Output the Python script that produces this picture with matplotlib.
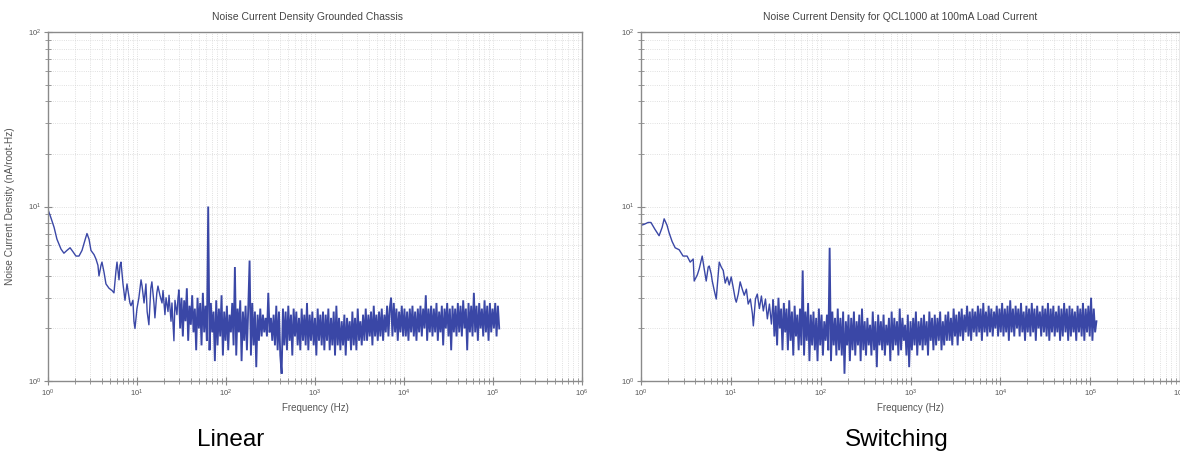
import numpy as np
import matplotlib
matplotlib.use("Agg")
import matplotlib.pyplot as plt
from matplotlib.ticker import LogLocator

# ---------------- data ----------------
TITLE_LEFT = "Noise Current Density Grounded Chassis"
TITLE_RIGHT = "Noise Current Density for QCL1000 at 100mA Load Current"
YLABEL = "Noise Current Density (nA/root-Hz)"
XLABEL = "Frequency (Hz)"
CAPTIONS = ["Linear", "Switching"]

# low-frequency part, left (Linear) panel: frequency (Hz), noise (nA/rtHz)
LIN_LF_FREQ = [1.00, 1.08, 1.17, 1.26, 1.40, 1.51, 1.63, 1.77, 1.91, 2.06,
               2.23, 2.41, 2.60, 2.74, 2.89, 3.04, 3.29, 3.46, 3.64, 3.74,
               3.94, 4.04, 4.26, 4.48, 4.85, 5.24, 5.51, 5.81, 5.96, 6.28,
               6.44, 6.61, 6.96, 7.33, 7.72, 7.92, 8.33, 8.56, 9.00, 9.24,
               9.49, 9.99, 10.5, 11.1, 11.4, 12.0, 12.6, 13.0, 13.6, 14.3,
               14.7, 15.5, 15.9, 16.7, 17.2, 18.1, 19.1, 19.6, 20.6, 21.2,
               22.3, 22.9, 24.1, 24.7, 26.0, 26.7, 28.1, 28.9]
LIN_LF_VAL = [9.6, 8.6, 7.6, 6.5, 5.7, 5.4, 5.6, 5.8, 5.5, 5.2,
              5.2, 5.6, 6.4, 7.0, 6.5, 5.6, 5.3, 5.0, 4.6, 4.0,
              4.6, 4.8, 4.2, 3.6, 3.4, 3.3, 3.2, 4.3, 4.8, 3.8,
              4.6, 4.8, 3.6, 2.9, 3.6, 3.3, 2.8, 2.7, 2.9, 2.2,
              2.0, 2.6, 3.0, 3.8, 3.5, 2.8, 3.6, 2.5, 2.1, 3.4,
              3.7, 2.8, 2.3, 3.2, 3.5, 3.1, 2.8, 3.3, 2.4, 3.0,
              2.5, 3.1, 2.2, 2.8, 1.7, 2.9, 2.4, 3.0]

# low-frequency part, right (Switching) panel
SW_LF_FREQ = [1.00, 1.08, 1.20, 1.29, 1.43, 1.59, 1.72, 1.81, 1.95, 2.05,
              2.22, 2.40, 2.66, 2.94, 3.26, 3.53, 3.81, 3.91, 4.23, 4.45,
              4.80, 5.05, 5.32, 5.60, 5.75, 6.05, 6.21, 6.54, 6.88, 7.24,
              7.43, 7.82, 8.23, 8.66, 9.12, 9.60, 10.1, 10.6, 11.2, 11.5,
              12.1, 12.7, 13.4, 14.1, 14.9, 15.6, 16.5, 17.4, 17.8, 18.8,
              19.7, 20.8, 21.9, 23.0, 24.3, 25.5, 26.9, 28.3]
SW_LF_VAL = [7.8, 7.9, 8.1, 8.1, 7.4, 6.8, 7.6, 8.5, 7.8, 7.1,
             6.3, 5.8, 5.65, 5.2, 5.2, 4.8, 5.0, 3.74, 4.05, 4.4,
             5.2, 4.4, 3.74, 4.5, 4.56, 4.1, 3.74, 3.3, 2.95, 4.1,
             4.8, 4.5, 4.3, 3.64, 3.95, 3.55, 3.95, 3.46, 2.95, 2.83,
             3.15, 3.7, 3.36, 3.1, 3.36, 2.76, 2.95, 2.42, 2.07, 2.95,
             3.15, 2.6, 3.07, 2.52, 2.95, 2.27, 2.76, 2.12]

# broadband part: log10 of frequency (Hz), shared by both panels
BAND_EXP = [
    1.470, 1.485, 1.500, 1.515, 1.530, 1.545, 1.560, 1.575, 1.590, 1.605,
    1.620, 1.635, 1.650, 1.665, 1.680, 1.695, 1.710, 1.725, 1.740, 1.755,
    1.770, 1.785, 1.800, 1.815, 1.830, 1.845, 1.860, 1.875, 1.890, 1.905,
    1.920, 1.935, 1.950, 1.965, 1.980, 1.995, 2.010, 2.025, 2.040, 2.055,
    2.070, 2.085, 2.100, 2.115, 2.130, 2.145, 2.160, 2.175, 2.190, 2.205,
    2.220, 2.235, 2.250, 2.265, 2.280, 2.295, 2.310, 2.325, 2.340, 2.355,
    2.370, 2.385, 2.400, 2.415, 2.430, 2.445, 2.460, 2.475, 2.490, 2.505,
    2.520, 2.535, 2.550, 2.565, 2.580, 2.595, 2.610, 2.625, 2.640, 2.655,
    2.670, 2.685, 2.700, 2.715, 2.730, 2.745, 2.760, 2.775, 2.790, 2.805,
    2.820, 2.835, 2.850, 2.865, 2.880, 2.895, 2.910, 2.925, 2.940, 2.955,
    2.970, 2.985, 3.000, 3.015, 3.030, 3.045, 3.060, 3.075, 3.090, 3.105,
    3.120, 3.135, 3.150, 3.165, 3.180, 3.195, 3.210, 3.225, 3.240, 3.255,
    3.270, 3.285, 3.300, 3.315, 3.330, 3.345, 3.360, 3.375, 3.390, 3.405,
    3.420, 3.435, 3.450, 3.465, 3.480, 3.495, 3.510, 3.525, 3.540, 3.555,
    3.570, 3.585, 3.600, 3.615, 3.630, 3.645, 3.660, 3.675, 3.690, 3.705,
    3.720, 3.735, 3.750, 3.765, 3.780, 3.795, 3.810, 3.825, 3.840, 3.855,
    3.870, 3.885, 3.900, 3.915, 3.930, 3.945, 3.960, 3.975, 3.990, 4.005,
    4.020, 4.035, 4.050, 4.065, 4.080, 4.095, 4.110, 4.125, 4.140, 4.155,
    4.170, 4.185, 4.200, 4.215, 4.230, 4.245, 4.260, 4.275, 4.290, 4.305,
    4.320, 4.335, 4.350, 4.365, 4.380, 4.395, 4.410, 4.425, 4.440, 4.455,
    4.470, 4.485, 4.500, 4.515, 4.530, 4.545, 4.560, 4.575, 4.590, 4.605,
    4.620, 4.635, 4.650, 4.665, 4.680, 4.695, 4.710, 4.725, 4.740, 4.755,
    4.770, 4.785, 4.800, 4.815, 4.830, 4.845, 4.860, 4.875, 4.890, 4.905,
    4.920, 4.935, 4.950, 4.965, 4.980, 4.995, 5.010, 5.025, 5.040, 5.055,
    5.070]

LIN_BAND_VAL = [
    3.3, 2.0, 3.0, 1.8, 2.9, 2.2, 3.4, 1.7, 2.7, 2.1,
    3.1, 1.9, 2.6, 1.5, 3.0, 2.0, 2.8, 1.6, 3.2, 1.9,
    2.7, 1.7, 10.0, 1.5, 2.8, 1.9, 2.5, 1.3, 2.9, 1.6,
    2.6, 1.8, 3.1, 1.4, 2.5, 1.7, 2.7, 1.5, 2.4, 1.9,
    2.8, 1.6, 4.5, 1.4, 2.6, 1.9, 2.9, 1.3, 2.5, 1.7,
    2.7, 1.5, 2.6, 4.9, 1.4, 2.8, 1.6, 2.5, 1.2, 2.4,
    1.7, 2.6, 1.8, 2.4, 1.9, 2.3, 1.8, 3.2, 1.9, 2.3,
    1.7, 2.4, 1.6, 2.7, 1.5, 2.5, 1.4, 1.1, 2.6, 1.6,
    2.5, 1.5, 2.7, 1.7, 2.4, 1.4, 2.6, 1.8, 2.5, 1.6,
    2.3, 1.5, 2.6, 1.7, 2.4, 1.6, 2.8, 1.5, 2.4, 1.7,
    2.5, 1.6, 2.3, 1.4, 2.6, 1.7, 2.4, 1.6, 2.5, 1.5,
    2.4, 1.7, 2.6, 1.5, 2.3, 1.6, 2.5, 1.4, 2.7, 1.6,
    2.3, 1.5, 2.2, 1.6, 2.4, 1.4, 2.3, 1.7, 2.2, 1.5,
    2.5, 1.6, 2.3, 1.5, 2.6, 1.7, 2.2, 1.6, 2.4, 1.7,
    2.6, 1.7, 2.4, 1.8, 2.5, 1.6, 2.7, 1.8, 2.4, 1.7,
    2.5, 1.8, 2.6, 1.7, 2.4, 1.9, 2.7, 1.8, 2.6, 3.0,
    1.8, 2.8, 1.9, 2.6, 1.7, 2.5, 1.9, 2.7, 1.8, 2.6,
    1.8, 2.5, 1.7, 2.6, 1.9, 2.7, 1.8, 2.5, 1.7, 2.6,
    1.9, 2.7, 1.8, 2.6, 2.0, 3.1, 1.7, 2.6, 1.9, 2.7,
    1.8, 2.6, 1.9, 2.8, 1.7, 2.5, 1.9, 2.7, 1.6, 2.6,
    2.0, 2.8, 1.8, 2.6, 1.5, 2.7, 1.9, 2.6, 1.8, 2.8,
    1.9, 2.7, 1.8, 2.9, 2.0, 2.6, 1.5, 2.8, 1.9, 2.7,
    1.8, 3.2, 1.9, 2.7, 1.7, 2.8, 2.0, 2.6, 1.8, 2.9,
    1.9, 2.7, 1.7, 2.8, 1.9, 2.6, 2.0, 2.8, 1.8, 2.7,
    2.0]

SW_BAND_VAL = [
    2.9, 1.8, 2.7, 1.6, 3.0, 2.0, 2.6, 1.5, 2.8, 1.9,
    2.6, 1.5, 2.9, 1.7, 2.5, 1.4, 2.7, 1.8, 2.4, 1.5,
    2.6, 1.6, 4.3, 1.4, 2.5, 1.7, 2.8, 1.3, 2.4, 1.6,
    2.5, 1.5, 2.3, 1.3, 2.6, 1.6, 2.4, 1.4, 2.2, 1.7,
    2.4, 1.5, 5.8, 1.3, 2.5, 1.6, 2.3, 1.4, 2.6, 1.5,
    2.3, 1.4, 2.5, 1.1, 2.2, 1.6, 2.4, 1.3, 2.3, 1.5,
    2.5, 1.4, 2.2, 1.6, 2.4, 1.3, 2.6, 1.5, 2.2, 1.4,
    2.3, 1.6, 2.1, 1.4, 2.5, 1.5, 2.2, 1.2, 2.4, 1.6,
    2.2, 1.5, 2.4, 1.4, 2.1, 1.6, 2.3, 1.3, 2.5, 1.5,
    2.3, 1.6, 2.2, 1.4, 2.6, 1.5, 2.3, 1.7, 2.1, 1.4,
    2.4, 1.2, 2.2, 1.5, 2.3, 1.6, 2.5, 1.4, 2.2, 1.6,
    2.3, 1.5, 2.4, 1.6, 2.2, 1.4, 2.5, 1.7, 2.3, 1.5,
    2.4, 1.6, 2.3, 1.7, 2.5, 1.5, 2.2, 1.6, 2.4, 1.7,
    2.5, 1.7, 2.3, 1.6, 2.6, 1.8, 2.4, 1.6, 2.5, 1.8,
    2.6, 1.7, 2.4, 1.9, 2.7, 1.8, 2.5, 1.7, 2.6, 1.9,
    2.5, 1.8, 2.7, 1.9, 2.6, 1.7, 2.8, 1.9, 2.5, 1.8,
    2.7, 1.9, 2.6, 1.8, 2.5, 2.0, 2.7, 1.8, 2.6, 1.9,
    2.8, 1.8, 2.6, 1.9, 2.7, 1.7, 2.9, 1.9, 2.6, 1.8,
    2.7, 2.0, 2.6, 1.8, 2.8, 1.9, 2.5, 1.7, 2.7, 1.9,
    2.6, 1.8, 2.8, 1.9, 2.6, 1.7, 2.7, 2.0, 2.5, 1.8,
    2.7, 1.9, 2.6, 1.8, 2.8, 1.7, 2.6, 1.9, 2.7, 1.8,
    2.5, 1.9, 2.7, 1.7, 2.6, 1.8, 2.8, 1.9, 2.6, 1.7,
    2.7, 1.8, 2.6, 1.9, 2.5, 1.7, 2.7, 1.9, 2.6, 1.8,
    2.8, 1.7, 2.6, 1.9, 2.7, 1.8, 3.0, 1.7, 2.6, 1.9,
    2.2]

X_RANGE = (1, 1e6)
Y_RANGE = (1, 100)

# ---------------- figure ----------------
plt.rcParams['font.family'] = ['Liberation Sans', 'DejaVu Sans']
plt.rcParams['mathtext.fontset'] = 'custom'
plt.rcParams['mathtext.rm'] = 'Liberation Sans'

W, H = 1180, 451
fig = plt.figure(figsize=(W / 100, H / 100), dpi=100)

LINE_COLOR = '#3a47a6'
SPINE_COLOR = '#8a8a8a'
TEXT_COLOR = '#555555'

band_freq = [10 ** e for e in BAND_EXP]

panels = [
    (48, 582, LIN_LF_FREQ, LIN_LF_VAL, LIN_BAND_VAL, TITLE_LEFT, 308, True),
    (641, 1180, SW_LF_FREQ, SW_LF_VAL, SW_BAND_VAL, TITLE_RIGHT, 900, False),
]

top_px, bot_px = 32, 381
for i, (x0, x1, lf_f, lf_v, band_v, title, title_x, show_ylabel) in enumerate(panels):
    ax = fig.add_axes([x0 / W, 1 - bot_px / H, (x1 - x0) / W, (bot_px - top_px) / H])
    # band drawn thicker so that the dense FFT trace fills in like the original
    ax.plot(band_freq, band_v, color=LINE_COLOR, lw=1.35, solid_joinstyle='miter')
    ax.plot(lf_f + band_freq[:1], lf_v + band_v[:1], color=LINE_COLOR, lw=1.0)
    ax.set_xscale('log')
    ax.set_yscale('log')
    ax.set_xlim(*X_RANGE)
    ax.set_ylim(*Y_RANGE)
    ax.xaxis.set_major_locator(LogLocator(base=10, numticks=10))
    ax.xaxis.set_minor_locator(LogLocator(base=10, subs=np.arange(2, 10), numticks=20))
    ax.yaxis.set_major_locator(LogLocator(base=10, numticks=10))
    ax.yaxis.set_minor_locator(LogLocator(base=10, subs=np.arange(2, 10), numticks=20))
    ax.grid(True, which='both', linestyle=':', color='#d6d6d6', lw=0.6)
    ax.set_axisbelow(True)
    for s in ax.spines.values():
        s.set_color(SPINE_COLOR)
        s.set_linewidth(1.0)
    ax.tick_params(which='major', direction='inout', length=6, width=0.8,
                   color=SPINE_COLOR, labelsize=5.5, labelcolor=TEXT_COLOR, pad=2)
    ax.tick_params(which='minor', direction='inout', length=4, width=0.6,
                   color=SPINE_COLOR)
    ax.tick_params(top=False, right=False, which='both')
    if show_ylabel:
        fig.text(10 / W, 1 - 206 / H, YLABEL, rotation=90, ha='center', va='center',
                 fontsize=7.3, color=TEXT_COLOR)
    fig.text(title_x / W, 1 - 17 / H, title, ha='center', va='center',
             fontsize=7.5, color='#444444')
    fig.text(((x0 + min(x1, 1179)) / 2) / W, 1 - 408 / H, XLABEL, ha='center', va='center',
             fontsize=7, color=TEXT_COLOR)

fig.text(231 / W, 1 - 446 / H, CAPTIONS[0], ha='center', va='baseline',
         fontsize=17.5, color='black')
fig.text(897 / W, 1 - 446 / H, CAPTIONS[1], ha='center', va='baseline',
         fontsize=17.5, color='black')

fig.savefig('out.png', dpi=100)
